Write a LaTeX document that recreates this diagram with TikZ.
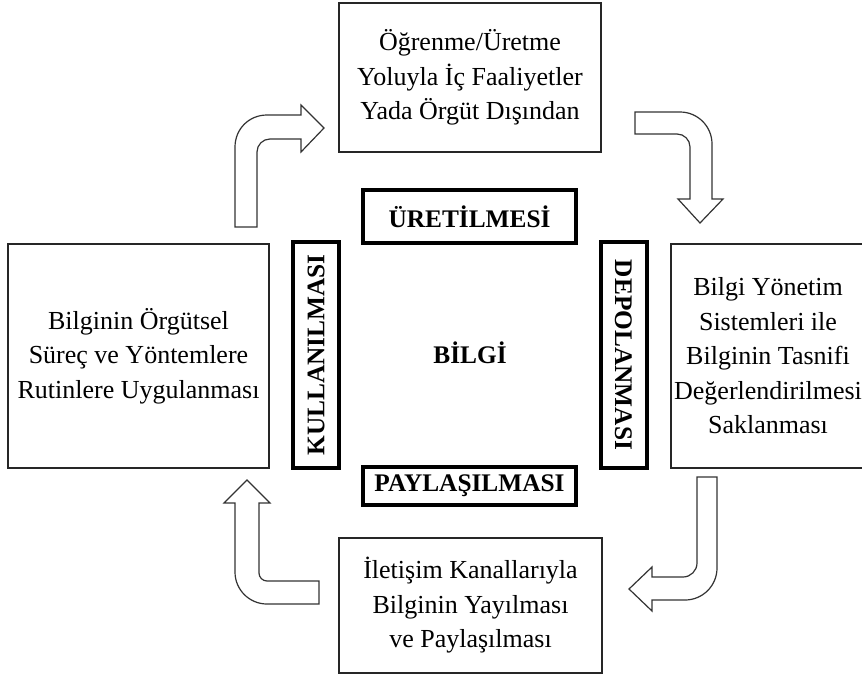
\documentclass[tikz,border=0pt]{standalone}
\usepackage{fontspec}
\setmainfont{Liberation Serif}

\newcommand{\kutuyazi}{\fontsize{19.5}{25.9}\selectfont}
\newcommand{\etiketyazi}{\fontsize{19}{25.9}\selectfont\bfseries}

\tikzset{
  kutu/.style={draw=black!85, line width=1.2pt, align=center, font=\kutuyazi, inner sep=2pt},
  etiket/.style={draw=black, line width=3pt, font=\etiketyazi, inner sep=2pt},
  okblok/.style={draw=black!80, line width=0.9pt, fill=white, line join=miter},
}

\begin{document}
\begin{tikzpicture}[x=0.75pt,y=-0.75pt]

\useasboundingbox (0,0) rectangle (862,675);
\clip (0,0) rectangle (862,675);

%KUTULAR
% ust
\node[kutu, minimum width=196.5pt, minimum height=111.75pt] (uretim) at (470,77.5)
  {Öğrenme/Üretme\\Yoluyla İç Faaliyetler\\Yada Örgüt Dışından};
% sag
\node[kutu, minimum width=145.5pt, minimum height=168pt] (depolama) at (768,356)
  {Bilgi Yönetim\\Sistemleri ile\\Bilginin Tasnifi\\Değerlendirilmesi\\Saklanması};
% alt
\node[kutu, minimum width=197.25pt, minimum height=101.25pt] (paylasim) at (470.5,605.5)
  {İletişim Kanallarıyla\\Bilginin Yayılması\\ve Paylaşılması};
% sol
\node[kutu, minimum width=195.75pt, minimum height=168pt] (kullanim) at (138.5,356)
  {Bilginin Örgütsel\\Süreç ve Yöntemlere\\Rutinlere Uygulanması};

%ETIKETLER
\node[etiket, minimum width=159.75pt, minimum height=39.75pt] (eturet) at (469.5,216.5) {ÜRETİLMESİ};
\node[etiket, minimum width=159.75pt, minimum height=28.5pt] (etpay) at (469.5,486) {PAYLAŞILMASI};
\node[etiket, rotate=90, minimum width=169.5pt, minimum height=34.5pt] (etkul) at (316,355) {KULLANILMASI};
\node[etiket, rotate=-90, minimum width=169.5pt, minimum height=34.5pt] (etdep) at (623.5,355) {DEPOLANMASI};

% orta
\node[font=\etiketyazi] (bilgi) at (470,353) {BİLGİ};

%OKLAR
% sol ust
\draw[okblok] (235,227) -- (235,147) .. controls (235,129) and (249,115) .. (267,115)
  -- (301,115) -- (301,105) -- (324,128) -- (301,152) -- (301,139) -- (270,139)
  .. controls (262.8,139) and (257,144.8) .. (257,152) -- (257,227) -- cycle;
% sag ust
\draw[okblok] (635,112) -- (680,112) .. controls (697.7,112) and (712,126.3) .. (712,144)
  -- (712,199) -- (723,199) -- (700,223) -- (678,199) -- (690,199) -- (690,147)
  .. controls (690,139.8) and (684.2,134) .. (677,134) -- (635,134) -- cycle;
% sag alt
\draw[okblok] (697,477) -- (717,477) -- (717,568) .. controls (717,585.7) and (702.7,600) .. (685,600)
  -- (652,600) -- (652,611) -- (629,589) -- (652,567) -- (652,577) -- (683,577)
  .. controls (690.7,577) and (697,570.7) .. (697,563) -- cycle;
% sol alt
\draw[okblok] (319,581) -- (319,604) -- (267,604) .. controls (249.3,604) and (235,589.7) .. (235,572)
  -- (235,503) -- (224,503) -- (247,480) -- (270,503) -- (259,503) -- (259,573)
  .. controls (259,577.4) and (262.6,581) .. (267,581) -- cycle;

\end{tikzpicture}
\end{document}
